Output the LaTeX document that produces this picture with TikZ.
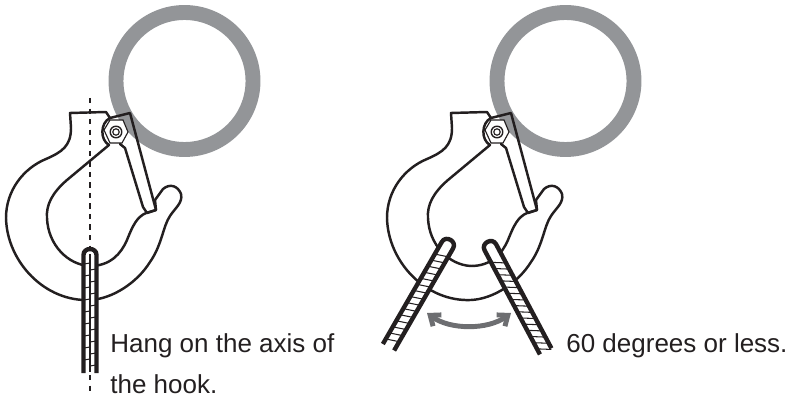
\documentclass[tikz,border=0pt]{standalone}
\usepackage{fontspec}
\usetikzlibrary{arrows.meta}
\setmainfont{Liberation Sans}
\definecolor{ringgray}{HTML}{939598}
\definecolor{arrowgray}{HTML}{6D6E71}
\definecolor{inkblack}{HTML}{231F20}
% ---------- outline of a wire rope, top end at the origin ----------
\newcommand{\ropebody}{
  \path[fill=white] (-6.5,5) -- (-6.5,125) -- (6.5,125) -- (6.5,5) -- (0,0) -- cycle;
  \draw[ropeline] (-6.5,125) -- (-6.5,7) .. controls (-6.5,-1) and (6.5,-1) .. (6.5,7) -- (6.5,125);
}
\tikzset{
  hookline/.style={draw=inkblack,line width=1.4pt,line join=round,line cap=round},
  thinline/.style={draw=inkblack,line width=0.65pt},
  ropeline/.style={draw=inkblack,line width=2.5pt,line join=round},
  tickline/.style={draw=inkblack,line width=0.6pt},
  caption/.style={anchor=base west,text=inkblack,font=\fontsize{14.8pt}{18pt}\selectfont,inner sep=0pt},
  % ---------- ring, body, latch and nut of one hook ----------
  hook/.pic={
    \draw[ringgray,line width=8.5pt] (184.5,81) circle (68.5);
    \path[hookline,fill=white] (70,113) -- (106,112) -- (110,118)
      .. controls (100,123) and (100,140) .. (109,145)
      -- (67,180) .. controls (52,193) and (46,205) .. (47,218)
      .. controls (48,245) and (68,265) .. (90,266)
      .. controls (110,266) and (121,254) .. (127,240)
      .. controls (133,225) and (137,217) .. (146,213)
      -- (156,210) -- (155,200) -- (163,189)
      .. controls (170,183) and (178,186) .. (181,194)
      .. controls (183,203) and (175,208) .. (170,216)
      .. controls (163,226) and (162,245) .. (150,262)
      .. controls (137,283) and (112,299) .. (90,300)
      .. controls (45,302) and (7,262) .. (6,218)
      .. controls (6,190) and (24,168) .. (46,159)
      .. controls (62,152) and (71,146) .. (71,128)
      -- cycle;
    \draw[hookline] (110,118) -- (130,113) -- (156,210)
      -- (147,213) -- (143,207) -- (125,148) -- (120,144);
    \path[thinline,fill=white] (104,130) -- (110,120) -- (123,120) -- (128,132) -- (122,143) -- (110,143) -- cycle;
    \draw[hookline,line width=0.8pt] (116,132) circle (5.8);
    \draw[thinline] (116,132) circle (3.2);
  },
  axisrope/.pic={
    \ropebody
    \draw[tickline] (0,6) -- (0,124);
    \foreach \ty in {16,28,...,118} {
      \draw[tickline] (-6,\ty) -- (0,\ty-1);
      \draw[tickline] (0,\ty+6) -- (6,\ty+5);
    }
  },
  sliprope/.pic={
    \ropebody
    \foreach \ty in {21,28,...,119} {
      \draw[tickline] (-6,\ty) -- (6,\ty+\ticktilt);
    }
  }
}
\begin{document}
\begin{tikzpicture}[x=0.02cm,y=-0.02cm]
\useasboundingbox (0,0) rectangle (794,398);

% ---------- left picture ----------
\pic at (0,0) {hook};
\draw[thinline,dashed] (90,98) -- (90,247);
\draw[thinline,dashed] (90,375) -- (90,392);
\pic at (90,248) {axisrope};

% ---------- right picture ----------
\pic at (381,0) {hook};
\def\ticktilt{-4}
\pic[rotate=-30] at (451,239) {sliprope};
\def\ticktilt{7}
\pic[rotate=28] at (487,241) {sliprope};
\draw[arrowgray,line width=2.8pt,<->,>={Straight Barb[length=5pt,width=8pt]}]
  (427,313) .. controls (450,330) and (488,330) .. (511,313);

% ---------- captions ----------
\node[caption] (axisA) at (110,353) {Hang on the axis of};
\node[caption] (axisB) at (110,393) {the hook.};
\node[caption] (limit) at (566,353) {60 degrees or less.};

\end{tikzpicture}
\end{document}
